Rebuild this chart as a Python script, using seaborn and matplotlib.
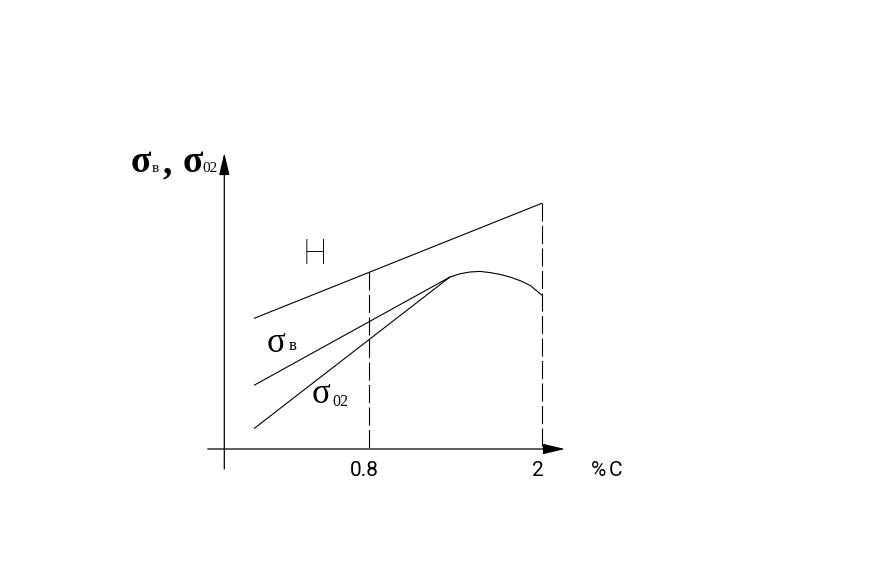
import numpy as np
import pandas as pd
import matplotlib
matplotlib.use("Agg")
import matplotlib.pyplot as plt
import seaborn as sns

# carbon content (%C) and strength (arbitrary units)
carbon_h = [0.0, 2.0]
strength_h = [43.6, 81.9]
carbon_sb = [0.0, 1.36]
strength_sb = [21.3, 57.3]
carbon_s02 = [0.0, 1.36]
strength_s02 = [6.9, 57.3]
carbon_top = [1.36, 1.43, 1.50, 1.57, 1.64, 1.71, 1.78, 1.85, 1.92, 2.0]
strength_top = [57.3, 58.4, 59.0, 59.2, 58.8, 58.2, 57.3, 56.1, 54.5, 51.3]
drop_c = [0.8, 2.0]
drop_top = [59.0, 81.9]
tick_labels = ["0.8", "2"]

sns.set_theme(style="white")
plt.rcParams["font.family"] = ["Liberation Serif", "DejaVu Serif"]
plt.rcParams["lines.scale_dashes"] = False

df = pd.concat([
    pd.DataFrame({"C": carbon_h, "s": strength_h, "curve": "H"}),
    pd.DataFrame({"C": carbon_sb, "s": strength_sb, "curve": "sb"}),
    pd.DataFrame({"C": carbon_s02, "s": strength_s02, "curve": "s02"}),
    pd.DataFrame({"C": carbon_top, "s": strength_top, "curve": "top"}),
])

# pixel -> data helper (only used to place labels)
X0, KX, Y0, KY = 254.4, 143.7, 449.0, 3.0
def P(px, py):
    return (px - X0) / KX, (Y0 - py) / KY

fig = plt.figure(figsize=(8.7, 5.75), dpi=100)
ax = fig.add_axes([0, 0, 1, 1])
ax.set_xlim(P(0, 0)[0], P(870, 0)[0])
ax.set_ylim(P(0, 575)[1], P(0, 0)[1])
ax.axis("off")

sns.lineplot(data=df, x="C", y="s", units="curve", estimator=None, sort=False,
             color="black", lw=0.8, ax=ax, legend=False)

for c, top in zip(drop_c, drop_top):
    ax.plot([c, c], [top, 0], color="black", lw=0.8, ls=(0, (13, 3.2)))

# axes with arrows
arrow = dict(arrowstyle="-|>,head_length=1.35,head_width=0.32", mutation_scale=10,
             lw=0.9, color="black", shrinkA=0, shrinkB=0)
ax.annotate("", xy=P(565, 449), xytext=P(207.7, 449), arrowprops=arrow)
ax.annotate("", xy=P(224.3, 153), xytext=P(224.3, 469), arrowprops=arrow)

# tick labels
tech = dict(family="Roboto", weight="normal", ha="center", va="baseline", color="black")
ax.text(*P(364.4, 476), tick_labels[0], fontsize=15, **tech)
ax.text(*P(537.5, 476), tick_labels[1], fontsize=15, **tech)
ax.text(*P(598.5, 476), "%", fontsize=15, **tech)
ax.text(*P(615.5, 476), "C", fontsize=15, **tech)
ax.text(*P(314.7, 264.3), "H", fontsize=25, **dict(tech, weight="light"))

# y-axis label
big = dict(ha="left", va="baseline", color="black")
ax.text(*P(131, 172), "σ", fontsize=27, weight="bold", **big)
ax.text(*P(151.5, 172), "в", fontsize=11, **big)
ax.text(*P(163, 173), ",", fontsize=27, weight="bold", **big)
ax.text(*P(183, 172), "σ", fontsize=27, weight="bold", **big)
ax.text(*P(202.5, 172), "02", fontsize=11, **big)

# curve labels
ax.text(*P(266.5, 352.3), "σ", fontsize=25, **big)
ax.text(*P(288.5, 350), "в", fontsize=12, **big)
ax.text(*P(311.5, 403.3), "σ", fontsize=25, **big)
ax.text(*P(332, 406), "02", fontsize=11.5, **big)

fig.savefig("out.png", dpi=100)
